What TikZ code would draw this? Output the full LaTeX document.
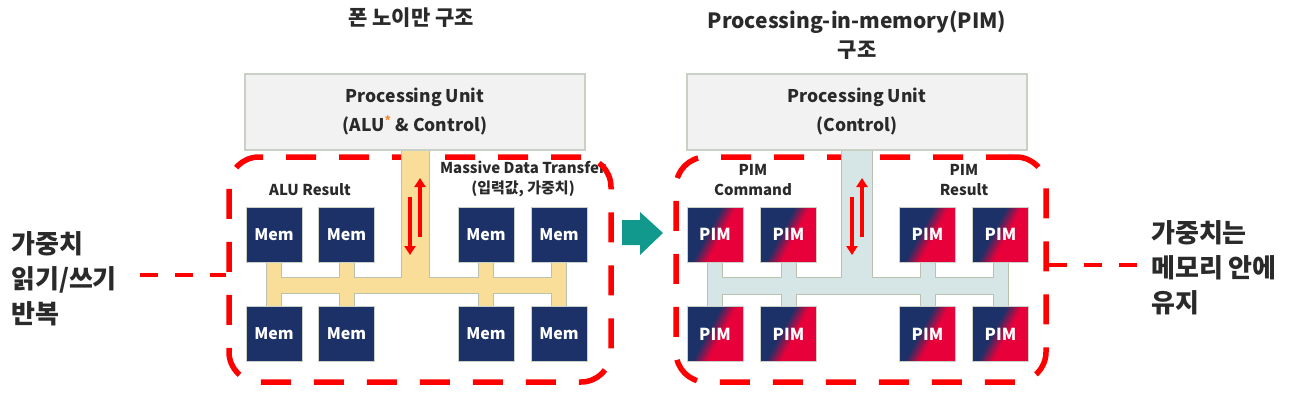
\documentclass[tikz,border=0pt]{standalone}
\usepackage{fontspec}
\setmainfont{Noto Sans CJK KR}
\usetikzlibrary{arrows.meta}
\definecolor{navy}{HTML}{1B3168}
\definecolor{pimred}{HTML}{E8003A}
\definecolor{dashred}{HTML}{FF0000}
\definecolor{busyel}{HTML}{F8DE98}
\definecolor{busblue}{HTML}{D6E6E6}
\definecolor{busedge}{HTML}{B9C2AE}
\definecolor{puedge}{HTML}{C9D0C6}
\definecolor{pufill}{HTML}{F2F2F2}
\definecolor{txt}{HTML}{2A2A2A}
\definecolor{arrteal}{HTML}{12998E}
\definecolor{astor}{HTML}{F28C38}
\pgfdeclarehorizontalshading{pimsh}{100bp}{color(0bp)=(navy); color(43bp)=(navy); color(55bp)=(pimred); color(100bp)=(pimred)}
\begin{document}
\begin{tikzpicture}[x=1pt,y=-1pt,
  pubox/.style={draw=puedge, fill=pufill, line width=1.2pt, minimum width=340pt, minimum height=76pt, inner sep=0pt, align=center, text=txt, font=\bfseries\fontsize{17.5}{29}\selectfont},
  mem/.style={draw=puedge, fill=navy, line width=1pt, minimum width=56pt, minimum height=55pt, inner sep=0pt, text=white, font=\bfseries\fontsize{16}{16}\selectfont},
  pim/.style={draw=puedge, shade, shading=pimsh, shading angle=-28, line width=1pt, minimum width=56pt, minimum height=55pt, inner sep=0pt, text=white, font=\bfseries\fontsize{16.5}{16}\selectfont},
  dashregion/.style={draw=dashred, line width=5.5pt, dash pattern=on 30pt off 23pt, rounded corners=30pt, minimum width=#1, minimum height=225pt, inner sep=0pt},
  conn/.style={draw=dashred, line width=4.5pt, dash pattern=on 18pt off 17pt},
  redarr/.style={draw=dashred, line width=3.5pt, -{Triangle[width=11pt,length=9pt]}},
  lbl/.style={text=txt, font=\bfseries\fontsize{15}{20}\selectfont, align=center, inner sep=0pt},
  title/.style={text=txt, font=\bfseries\fontsize{21}{29}\selectfont, align=center, inner sep=0pt},
  side/.style={text=txt, font=\bfseries\fontsize{26}{35}\selectfont, align=left, inner sep=0pt}
]
\useasboundingbox (0,0) rectangle (1294,394);

% titles
\node[title] (t1) at (411,18) {폰 노이만 구조};
\node[title] (t2) at (857,35.5) {Processing-in-memory(PIM)\\구조};

% labels
\node[lbl] (alures) at (310,190) {ALU Result};
\node[lbl] (mdt) at (523,179) {Massive Data Transfer\\(입력값, 가중치)};
\node[lbl] (pimcmd) at (753,180.5) {PIM\\Command};
\node[lbl] (pimres) at (964,180.5) {PIM\\Result};

% dashed regions
\node[dashregion=382pt] (lr) at (420,269.5) {};
\node[dashregion=370pt] (rr) at (861,269.5) {};

% left bus
\foreach \xx in {274,347,486,559} {\draw[busedge, line width=2pt] (\xx-7,262) rectangle (\xx+7,306);}
\draw[busedge, line width=2pt] (267,278) rectangle (566,293);
\draw[busedge, line width=2pt] (402,149) rectangle (429,278);
\foreach \xx in {274,347,486,559} {\fill[busyel] (\xx-7,262) rectangle (\xx+7,306);}
\fill[busyel] (267,278) rectangle (566,293);
\fill[busyel] (402,149) rectangle (429,278);

% right bus
\foreach \xx in {715,789,928,1000.5} {\draw[busedge, line width=2pt] (\xx-7,262) rectangle (\xx+7,306);}
\draw[busedge, line width=2pt] (708,278) rectangle (1008,294);
\draw[busedge, line width=2pt] (842,149) rectangle (872,278);
\foreach \xx in {715,789,928,1000.5} {\fill[busblue] (\xx-7,262) rectangle (\xx+7,306);}
\fill[busblue] (708,278) rectangle (1008,294);
\fill[busblue] (842,149) rectangle (872,278);

% processing units
\node[pubox] (pu1) at (415,112) {Processing Unit\\(ALU\textsuperscript{\color{astor}*} \& Control)};
\node[pubox] (pu2) at (857,112) {Processing Unit\\(Control)};

% memory boxes
\node[mem] (m1) at (274,234.5) {Mem};
\node[mem] (m2) at (346.5,234.5) {Mem};
\node[mem] (m3) at (486,234.5) {Mem};
\node[mem] (m4) at (559,234.5) {Mem};
\node[mem] (m5) at (274,334) {Mem};
\node[mem] (m6) at (346.5,334) {Mem};
\node[mem] (m7) at (486,334) {Mem};
\node[mem] (m8) at (559,334) {Mem};

\node[pim] (p1) at (715,234.5) {PIM};
\node[pim] (p2) at (788.5,234.5) {PIM};
\node[pim] (p3) at (927.5,234.5) {PIM};
\node[pim] (p4) at (1000.5,234.5) {PIM};
\node[pim] (p5) at (715,334) {PIM};
\node[pim] (p6) at (788.5,334) {PIM};
\node[pim] (p7) at (927.5,334) {PIM};
\node[pim] (p8) at (1000.5,334) {PIM};

% red arrows
\coordinate (a1s) at (410,197); \coordinate (a1e) at (410,255);
\coordinate (a2s) at (420,237); \coordinate (a2e) at (420,178);
\coordinate (b1s) at (852,197); \coordinate (b1e) at (852,255);
\coordinate (b2s) at (862,237); \coordinate (b2e) at (862,178);
\draw[redarr] (a1s) -- (a1e);
\draw[redarr] (a2s) -- (a2e);
\draw[redarr] (b1s) -- (b1e);
\draw[redarr] (b2s) -- (b2e);

% teal arrow
\fill[arrteal] (622,220) -- (640,220) -- (640,212) -- (663,233) -- (640,255) -- (640,245) -- (622,245) -- cycle;

% side texts
\node[side, anchor=west] (lt) at (11,279) {가중치\\읽기/쓰기\\반복};
\node[side, anchor=west] (rt) at (1151,268) {가중치는\\메모리 안에\\유지};
\coordinate (lc) at (140,275);
\coordinate (rc) at (1137,265);
\draw[conn] (lc) -- (lc -| lr.west);
\draw[conn] (rr.east |- rc) -- (rc);
\end{tikzpicture}
\end{document}
